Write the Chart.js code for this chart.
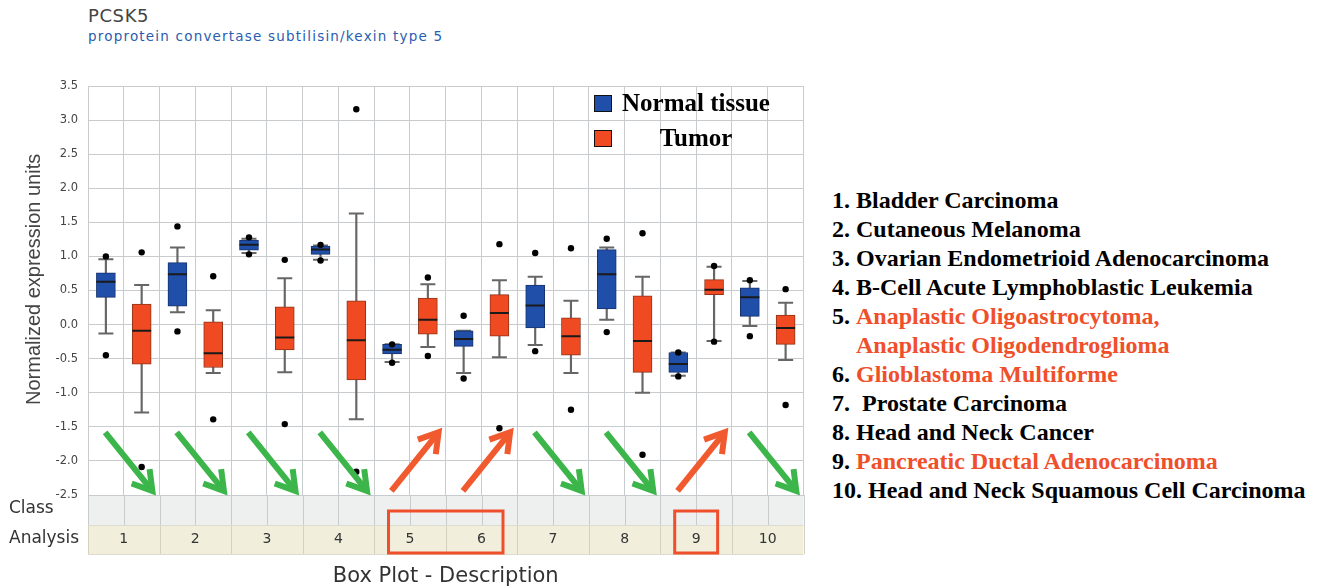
<!DOCTYPE html>
<html>
<head>
<meta charset="utf-8">
<title>PCSK5 box plot</title>
<script src="https://cdn.jsdelivr.net/npm/chart.js@4.4.0/dist/chart.umd.min.js"></script>
<style>
  body { margin: 0; background: #fff; width: 1319px; height: 588px; position: relative; overflow: hidden; }
  #wrap { position: absolute; left: 0; top: 0; width: 815px; height: 588px; }
  #gene { position: absolute; left: 88px; top: 7px; font: 18px "DejaVu Sans"; line-height: 1; color: #444; letter-spacing: 0.6px; }
  #desc { position: absolute; left: 88px; top: 30px; font: 13.5px "DejaVu Sans"; line-height: 1; color: #2a5db0; letter-spacing: 1.2px; }
  .leg { position: absolute; left: 594px; height: 18px; }
  .leg .sw { position: absolute; left: 0; top: 0; width: 16px; height: 15px; border: 1.5px solid #111; }
  .leg .tx { position: absolute; left: 26px; top: -7px; width: 152px; text-align: center;
             font: bold 25px "Liberation Serif"; line-height: 30px; color: #000; white-space: nowrap; }
  #list { position: absolute; left: 832px; top: 186px; font: bold 24px "Liberation Serif"; line-height: 29px; color: #000; }
  #list .row { white-space: pre; }
  #list .name { display: inline-block; vertical-align: top; }
</style>
</head>
<body>
<div id="gene">PCSK5</div>
<div id="desc">proprotein convertase subtilisin/kexin type 5</div>
<div id="wrap"><canvas id="grafico"></canvas></div>
<div id="legend"></div>
<div id="list"></div>
<script>
// dados =====================================================================

const groups = [1, 2, 3, 4, 5, 6, 7, 8, 9, 10];
const tissues = [
  "Bladder Carcinoma",
  "Cutaneous Melanoma",
  "Ovarian Endometrioid Adenocarcinoma",
  "B-Cell Acute Lymphoblastic Leukemia",
  "Anaplastic Oligoastrocytoma,\nAnaplastic Oligodendroglioma",
  "Glioblastoma Multiforme",
  " Prostate Carcinoma",
  "Head and Neck Cancer",
  "Pancreatic Ductal Adenocarcinoma",
  "Head and Neck Squamous Cell Carcinoma",
];
const seriesNames = ["Normal tissue", "Tumor"];
const yMin = -2.5, yMax = 3.5, yStep = 0.5;

// Normal tissue
const normalMin = [-0.13, 0.18, 1.05, 0.95, -0.55, -0.71, -0.30, 0.07, -0.75, -0.02];
const normalQ1  = [0.40, 0.27, 1.09, 1.03, -0.43, -0.32, -0.05, 0.23, -0.70, 0.12];
const normalMed = [0.63, 0.74, 1.17, 1.10, -0.37, -0.21, 0.28, 0.74, -0.58, 0.40];
const normalQ3  = [0.76, 0.91, 1.24, 1.15, -0.29, -0.09, 0.58, 1.10, -0.41, 0.54];
const normalMax = [0.96, 1.13, 1.26, 1.16, -0.29, -0.09, 0.70, 1.13, -0.41, 0.64];
const normalOut = [[1.0, -0.45], [1.44, -0.10], [1.28, 1.03], [1.17, 0.94], [-0.29, -0.56],
                   [0.13, -0.79], [1.05, -0.39], [1.26, -0.11], [-0.41, -0.76], [0.65, -0.17]];

// Tumor
const tumorMin = [-1.29, -0.71, -0.70, -1.39, -0.33, -0.48, -0.71, -1.00, -0.24, -0.52];
const tumorQ1  = [-0.58, -0.63, -0.37, -0.81, -0.14, -0.17, -0.45, -0.70, 0.44, -0.29];
const tumorMed = [-0.09, -0.42, -0.19, -0.23, 0.07, 0.17, -0.17, -0.24, 0.51, -0.05];
const tumorQ3  = [0.30, 0.04, 0.26, 0.35, 0.39, 0.44, 0.10, 0.42, 0.66, 0.14];
const tumorMax = [0.58, 0.21, 0.68, 1.63, 0.59, 0.65, 0.35, 0.70, 0.85, 0.32];
const tumorOut = [[1.06, -2.09], [0.71, -1.39], [0.95, -1.46], [3.16, -2.16], [0.69, -0.46],
                  [1.18, -1.52], [1.12, -1.25], [1.34, -1.91], [0.86, -0.25], [0.52, -1.18]];

// estilos ===================================================================

const BLUE = "#1f4fa8", ORANGE = "#f04a22", GREEN = "#3cb54a", RED = "#ef4f2b";
const GRID = "#c9ccce";
const up = groups.map((g, i) => tumorMed[i] > normalMed[i]);

// datasets ==================================================================

const series = [
  { name: seriesNames[0], dx: -0.25, min: normalMin, q1: normalQ1, med: normalMed, q3: normalQ3, max: normalMax, out: normalOut,
    fill: BLUE, edge: "#17336e" },
  { name: seriesNames[1], dx: 0.25, min: tumorMin, q1: tumorQ1, med: tumorMed, q3: tumorQ3, max: tumorMax, out: tumorOut,
    fill: ORANGE, edge: "#8f3318" },
];

const datasets = [];
series.forEach((s) => {
  datasets.push({
    type: "bar",
    label: s.name + " whisker",
    data: groups.map((g, i) => ({ x: g + s.dx, y: [s.min[i], s.max[i]] })),
    backgroundColor: "#666",
    barThickness: 1.5,
    grouped: false,
    order: 6,
  });
  datasets.push({
    type: "scatter",
    label: s.name + " caps",
    data: groups.flatMap((g, i) => [{ x: g + s.dx, y: s.min[i] }, { x: g + s.dx, y: s.max[i] }]),
    pointStyle: "line",
    radius: 7.5,
    borderColor: "#666",
    borderWidth: 2,
    order: 5,
  });
  datasets.push({
    type: "bar",
    label: s.name,
    data: groups.map((g, i) => ({ x: g + s.dx, y: [s.q1[i], s.q3[i]] })),
    backgroundColor: s.fill,
    borderColor: s.edge,
    borderWidth: 1,
    borderSkipped: false,
    barThickness: 19,
    grouped: false,
    order: 3,
    isBox: true,
  });
  datasets.push({
    type: "scatter",
    label: s.name + " median",
    data: groups.map((g, i) => ({ x: g + s.dx, y: s.med[i] })),
    pointStyle: "line",
    radius: 9.5,
    borderColor: "#1a1a1a",
    borderWidth: 2,
    order: 2,
  });
  datasets.push({
    type: "scatter",
    label: s.name + " outliers",
    data: groups.flatMap((g, i) => s.out[i].map((v) => ({ x: g + s.dx, y: v }))),
    pointStyle: "circle",
    radius: 3.2,
    backgroundColor: "#000",
    borderWidth: 0,
    order: 1,
  });
});

// plugins ===================================================================

function line(ctx, x0, y0, x1, y1) {
  ctx.beginPath();
  ctx.moveTo(x0, y0);
  ctx.lineTo(x1, y1);
  ctx.stroke();
}

// linhas Class / Analysis sob o gráfico
const tableRows = {
  id: "tableRows",
  beforeDraw(chart) {
    const { ctx, chartArea: a, scales: { x } } = chart;
    const classTop = a.bottom, anTop = a.bottom + 30, anBottom = a.bottom + 59;
    ctx.save();
    ctx.fillStyle = "#eef0f0";
    ctx.fillRect(a.left, classTop, a.right - a.left, anTop - classTop);
    ctx.fillStyle = "#f1efdc";
    ctx.fillRect(a.left, anTop, a.right - a.left, anBottom - anTop);
    ctx.lineWidth = 1;
    groups.forEach((g) => {
      const l = Math.round(x.getPixelForValue(g - 0.5)) + 0.5;
      const m = Math.round(x.getPixelForValue(g)) + 0.5;
      const r = Math.round(x.getPixelForValue(g + 0.5)) + 0.5;
      ctx.strokeStyle = GRID;
      line(ctx, l, classTop, l, anTop);
      line(ctx, m, classTop, m, anTop);
      line(ctx, r, classTop, r, anTop);
      ctx.strokeStyle = "#d3d1c0";
      line(ctx, l, anTop, l, anBottom);
      line(ctx, r, anTop, r, anBottom);
    });
    ctx.strokeStyle = "#dddccf";
    line(ctx, a.left, anTop + 0.5, a.right, anTop + 0.5);
    line(ctx, a.left, anBottom + 0.5, a.right, anBottom + 0.5);
    ctx.fillStyle = "#333";
    ctx.font = '17px "DejaVu Sans"';
    ctx.textBaseline = "middle";
    ctx.textAlign = "left";
    ctx.fillText("Class", 9, classTop + 14);
    ctx.fillText("Analysis", 9, anTop + 14);
    ctx.restore();
  },
  afterDraw(chart) {
    const { ctx, chartArea: a, scales: { x } } = chart;
    const top = a.bottom + 16, bottom = a.bottom + 58;
    // agrupa os grupos consecutivos com tumor acima do normal
    const runs = [];
    groups.forEach((g, i) => {
      if (!up[i]) return;
      const last = runs[runs.length - 1];
      if (last && last[1] === g - 1) last[1] = g;
      else runs.push([g, g]);
    });
    ctx.save();
    ctx.strokeStyle = RED;
    ctx.lineWidth = 3;
    runs.forEach(([g0, g1]) => {
      const l = x.getPixelForValue(g0 - 0.3), r = x.getPixelForValue(g1 + 0.3);
      ctx.strokeRect(l, top, r - l, bottom - top);
    });
    ctx.restore();
  },
};

// setas verde / vermelha
const arrows = {
  id: "arrows",
  afterDatasetsDraw(chart) {
    const { ctx, scales: { x, y } } = chart;
    ctx.save();
    ctx.lineWidth = 6;
    ctx.lineJoin = "miter";
    ctx.lineCap = "butt";
    groups.forEach((g, i) => {
      const x0 = x.getPixelForValue(g - 0.26), x1 = x.getPixelForValue(g + 0.4);
      const yHi = y.getPixelForValue(-1.58), yLo = y.getPixelForValue(-2.44);
      const [tx, ty, hx, hy] = up[i] ? [x0, yLo, x1, yHi] : [x0, yHi, x1, yLo];
      const ang = Math.atan2(ty - hy, tx - hx);
      const len = 22, spread = 0.55;
      ctx.strokeStyle = up[i] ? "#f05a2e" : GREEN;
      line(ctx, tx, ty, hx - 3 * Math.cos(ang + Math.PI), hy - 3 * Math.sin(ang + Math.PI));
      ctx.beginPath();
      ctx.moveTo(hx + len * Math.cos(ang + spread), hy + len * Math.sin(ang + spread));
      ctx.lineTo(hx, hy);
      ctx.lineTo(hx + len * Math.cos(ang - spread), hy + len * Math.sin(ang - spread));
      ctx.stroke();
    });
    ctx.restore();
  },
};

// gráfico ===================================================================

const config = {
  type: "bar",
  data: { datasets: datasets },
  options: {
    responsive: true,
    maintainAspectRatio: false,
    animation: false,
    layout: { padding: { top: 86, right: 0, left: 0, bottom: 0 } },
    plugins: { legend: { display: false }, tooltip: { enabled: false } },
    scales: {
      x: {
        type: "linear",
        min: 0.5,
        max: 10.5,
        offset: false,
        ticks: {
          stepSize: 0.5,
          maxTicksLimit: 100,
          autoSkip: false,
          maxRotation: 0,
          minRotation: 0,
          padding: 36,
          color: "#333",
          font: { family: "DejaVu Sans", size: 14 },
          callback: (v) => (Number.isInteger(v) ? String(v) : ""),
        },
        grid: { color: GRID, drawTicks: false, offset: false },
        border: { color: GRID },
        title: {
          display: true,
          text: "Box Plot - Description",
          color: "#333",
          font: { family: "DejaVu Sans", size: 21, lineHeight: 1 },
          padding: { top: 0, bottom: 1 },
        },
        afterFit(s) {
          s.height = 93;
          s.paddingLeft = 0;
          s.paddingRight = 0;
        },
      },
      y: {
        min: yMin,
        max: yMax,
        ticks: {
          stepSize: yStep,
          maxTicksLimit: 100,
          padding: 10,
          color: "#444",
          font: { family: "DejaVu Sans", size: 11.5 },
          callback: (v) => v.toFixed(1),
        },
        grid: { color: GRID, drawTicks: false },
        border: { color: GRID },
        title: {
          display: true,
          text: "    Normalized expression units",
          color: "#444",
          font: { family: "Liberation Sans", size: 20, lineHeight: 1 },
          padding: { top: 24, bottom: 0 },
        },
        afterFit(s) { s.width = 88; },
      },
    },
  },
  plugins: [tableRows, arrows],
};

const grafico = new Chart(document.getElementById("grafico"), config);

// legenda e lista ===========================================================

const legend = document.getElementById("legend");
grafico.data.datasets.filter((d) => d.isBox).forEach((d, i) => {
  const item = document.createElement("div");
  item.className = "leg";
  item.style.top = 95 + i * 35 + "px";
  item.innerHTML = '<div class="sw"></div><div class="tx"></div>';
  item.querySelector(".sw").style.background = d.backgroundColor;
  item.querySelector(".tx").textContent = d.label;
  legend.appendChild(item);
});

const list = document.getElementById("list");
tissues.forEach((t, i) => {
  const row = document.createElement("div");
  row.className = "row";
  const num = document.createElement("span");
  num.textContent = groups[i] + ". ";
  const name = document.createElement("span");
  name.className = "name";
  name.textContent = t;
  if (up[i]) name.style.color = RED;
  row.appendChild(num);
  row.appendChild(name);
  list.appendChild(row);
});
</script>
</body>
</html>
